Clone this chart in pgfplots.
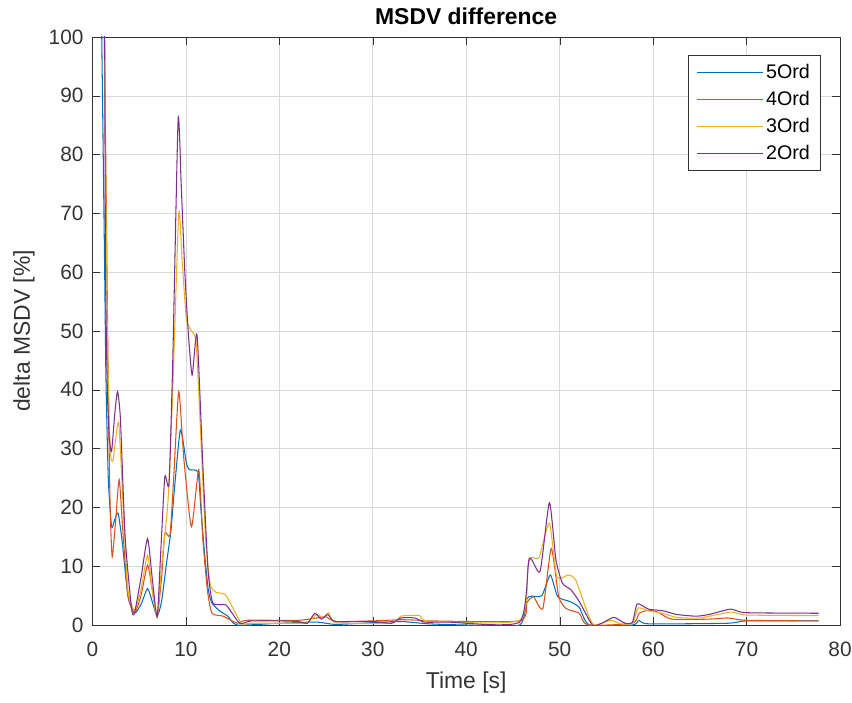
\documentclass[border=0pt]{standalone}
\usepackage{pgfplots}
\pgfplotsset{compat=1.18}
\usepackage{fontspec}
\setmainfont{Liberation Sans}
\definecolor{mblue}{rgb}{0,0.447,0.741}
\definecolor{morange}{rgb}{0.85,0.325,0.098}
\definecolor{myellow}{rgb}{0.929,0.694,0.125}
\definecolor{mpurple}{rgb}{0.494,0.184,0.556}
\begin{document}
\begin{tikzpicture}
\begin{axis}[
    width=186.9mm, height=147mm, scale only axis,
    xmin=0, xmax=80, ymin=0, ymax=100,
    xtick={0,10,...,80}, ytick={0,10,...,100},
    grid=major, major grid style={black!15, line width=0.4pt},
    axis line style={black!80, line width=0.5pt},
    tick align=inside, major tick length=2mm, tick style={black!80},
    /pgf/number format/assume math mode=true,
    ticklabel style={font=\fontsize{14.8}{17}\selectfont, text=black!80},
    xticklabel style={yshift=-3mm},
    yticklabel style={xshift=-1mm},
    xlabel={Time [s]}, ylabel={delta MSDV [\%]},
    label style={font=\fontsize{16.3}{19}\selectfont, text=black!80},
    xlabel style={at={(axis description cs:0.5,0)}, anchor=center, yshift=-14.3mm},
    ylabel style={at={(axis description cs:0,0.5)}, anchor=center, yshift=17.1mm},
    title={\textbf{MSDV difference}},
    title style={font=\fontsize{16.3}{19}\selectfont, at={(axis description cs:0.5,1)}, anchor=center, yshift=3mm},
    legend style={at={(0.974,0.969)}, anchor=north east, draw=black!80,
      font=\fontsize{14}{16.5}\selectfont, row sep=1.2mm, inner xsep=1.9mm, inner ysep=1.6mm},
    legend cell align=left,
    legend image code/.code={\draw[#1] (0mm,0mm) -- (16.5mm,0mm);},
    every axis plot/.append style={line width=0.75pt},
]
\addplot[draw=mblue, smooth, tension=0.35] coordinates {
(0.9,110) (1.0,100) (1.3,62) (1.45,42) (1.7,25) (2.05,16.7) (2.4,18) (2.76,19) (3.2,14) (3.8,5) (4.5,2) (5.2,3.5) (5.9,6.2) (6.4,4) (6.93,1.5) (7.4,4) (7.93,10.5) (8.4,16) (8.8,23.5) (9.42,33.2) (10.06,27.5) (10.4,26.4) (11.3,26) (11.6,20) (12.0,12.2) (12.4,6) (12.8,3.7) (13.7,2.3) (14.5,1.5) (15.5,0) (20,0.3) (24,0.5) (26,0.1) (30,0.4) (33,0.6) (36,0.2) (40,0) (45.7,0) (46.5,4.5) (47.0,4.9) (48.1,5.0) (49.0,8.5) (49.8,4.8) (51.1,4.0) (52.1,3.0) (53.2,0) (57.8,0) (58.5,0.8) (59.5,0.2) (68,0.3) (70,0.7) (77.7,0.7)
};
\addlegendentry{5Ord}
\addplot[draw=morange, smooth, tension=0.35] coordinates {
(1.2,110) (1.35,90) (1.5,70) (1.7,40) (1.9,20) (2.12,11.6) (2.5,18) (2.87,24.7) (3.3,15) (3.8,5) (4.5,2) (5.2,5) (5.9,10.2) (6.4,6) (6.93,1.5) (7.4,8) (7.75,15.6) (8.3,15.3) (8.7,25) (9.24,39.7) (9.8,28) (10.6,16.7) (11.38,26.4) (11.8,15) (12.3,6) (12.8,2) (14,1.5) (15.5,0.3) (16.5,0.8) (22,0.8) (24,1.2) (25,1.4) (26,0.6) (30,0.7) (33,0.9) (35,0.8) (36,0.7) (45.7,0.7) (46.5,3.8) (47.2,4.8) (48.2,2.8) (49.1,13.0) (49.9,4.8) (50.7,2.8) (52.1,2.0) (53,0) (57.8,0.3) (58.5,2.0) (59.5,2.5) (60.5,2.2) (62,1.0) (66,1.0) (68,1.2) (70,0.8) (77.7,0.7)
};
\addlegendentry{4Ord}
\addplot[draw=myellow, smooth, tension=0.35] coordinates {
(1.2,110) (1.4,80) (1.6,50) (1.9,30) (2.2,28) (2.8,34.5) (3.3,20) (3.8,6) (4.5,2.5) (5.2,6) (5.9,11.9) (6.4,6) (6.93,1.2) (7.4,10) (8.1,21.3) (8.6,40) (9.24,70) (9.6,62) (10.06,52) (10.6,50) (11.1,48) (11.6,32) (12.1,15) (12.6,7) (13.2,5.6) (14.2,5.2) (15,3) (16,0.2) (17,0.3) (22,0.3) (23,0.4) (24,1.8) (24.7,1.2) (25.3,2.1) (26,0.4) (32,0.3) (33,1.5) (35,1.6) (36,0.7) (45.7,0.8) (46.6,10) (47,11.5) (47.8,11.5) (48.9,17.3) (49.7,8.2) (50.9,8.5) (51.7,7.7) (53,2) (53.7,0) (55.5,0.8) (56.5,0.2) (57.8,0.3) (58.4,2.9) (59.5,2.4) (61,2.0) (62.5,1.3) (65,1.2) (68.3,2.2) (70,1.7) (77.7,1.6)
};
\addlegendentry{3Ord}
\addplot[draw=mpurple, smooth, tension=0.35] coordinates {
(1.3,110) (1.4,61) (1.6,40) (1.8,32) (2.05,29.5) (2.4,36) (2.69,39.7) (3.0,35) (3.5,15) (4.19,2.8) (4.5,2) (5.2,8) (5.9,14.7) (6.4,8) (6.93,1.4) (7.3,12) (7.75,25.2) (8.2,24) (8.6,45) (9.17,85.9) (9.5,75) (9.88,60.4) (10.24,50.2) (10.67,42.5) (11.2,49.3) (11.84,26.4) (12.37,9.4) (12.9,3.7) (14.3,3.4) (15.76,0.3) (17,0.7) (20,0.7) (22,0.6) (23,0.3) (23.8,2) (24.5,1) (25.2,1.8) (26,0.6) (30,0.6) (32,0.3) (33,1.2) (34.5,1.2) (35.5,0.5) (38,0.5) (45.7,0.5) (46.74,11.3) (47.9,9.1) (48.9,20.8) (49.6,11.1) (50.3,7.1) (51.2,6.0) (52.1,4.0) (53.5,0) (54.5,0.3) (55.8,1.3) (57,0.3) (57.8,0.5) (58.3,3.6) (59.5,2.7) (61.1,2.4) (62.5,1.8) (64.6,1.5) (66,1.8) (68.3,2.7) (69.9,2.1) (77.7,2.0)
};
\addlegendentry{2Ord}
\coordinate (SW) at (rel axis cs:0,0);
\coordinate (NE) at (rel axis cs:1,1);
\end{axis}
\pgfresetboundingbox
\path[use as bounding box] ([shift={(-23.1mm,-19.25mm)}]SW) rectangle ([shift={(3mm,9.25mm)}]NE);
\end{tikzpicture}
\end{document}
